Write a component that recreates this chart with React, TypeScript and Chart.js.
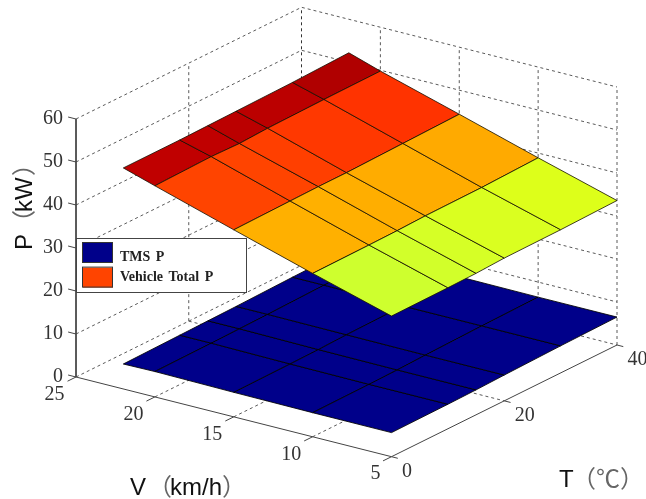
import React, { useEffect, useRef } from "react";
import { Chart, registerables } from "chart.js";

Chart.register(...registerables);

// ---- data -------------------------------------------------------------
const speeds = [22, 20, 15, 10, 5]; // V (km/h)
const temps = [0, 10, 15, 20, 30, 40]; // T (°C)

const vehicleTotalP = [
  [51.4, 51.4, 51.5, 51.6, 51.8, 52.2],
  [49.1, 49.4, 49.2, 49.5, 49.7, 49.8],
  [43.5, 43.7, 43.8, 43.8, 44.1, 44.4],
  [38.0, 38.1, 38.2, 38.4, 38.5, 38.9],
  [32.7, 32.8, 32.9, 33.2, 33.3, 33.6],
];
const tmsP = [
  [5.8, 6.0, 6.1, 6.2, 6.5, 6.7],
  [5.9, 6.0, 6.1, 6.2, 6.5, 6.7],
  [5.7, 5.8, 5.9, 6.1, 6.3, 6.6],
  [5.6, 5.7, 5.8, 6.0, 6.3, 6.5],
  [5.6, 5.7, 5.8, 6.0, 6.3, 6.5],
];
const vehicleColors = [
  ["#c00000", "#c00000", "#bb0000", "#bb0000", "#b00000"],
  ["#ff4400", "#ff4400", "#ff3f00", "#ff3800", "#ff3300"],
  ["#ffb000", "#ffb000", "#ffae00", "#ffac00", "#ffaa00"],
  ["#ceff2e", "#d2ff2a", "#d6ff26", "#daff20", "#ddff1a"],
];
const tmsColor = "#00008a";

const pTicks = [0, 10, 20, 30, 40, 50, 60];
const vTicks = [25, 20, 15, 10, 5];
const tTicks = [0, 20, 40];
const legendItems = ["TMS P", "Vehicle Total P"];
const legendColors = ["#00008a", "#ff4400"];

// ---- view ----------------------------------------------------------------
const W = 646;
const H = 499;
const vMax = 25;
const vMin = 5;
const tMin = 0;
const tMax = 40;
const pMax = 60;

const project = (v: number, t: number, p: number) => ({
  x: 76 + (vMax - v) * 15.775 + t * 5.6375,
  y: 377 + (vMax - v) * 3.985 - t * 2.7925 - p * 4.3,
});

type Pt = { x: number; y: number };
const path = (...pts: [number, number, number][]): Pt[] => pts.map((a) => project(a[0], a[1], a[2]));

const stroke = (data: Pt[], color: string, width: number, dash: number[] = []) => ({
  type: "scatter",
  data,
  showLine: true,
  fill: false,
  tension: 0,
  borderColor: color,
  borderWidth: width,
  borderDash: dash,
  pointRadius: 0,
});
const cell = (data: Pt[], color: string, edge: string) => ({
  type: "scatter",
  data,
  showLine: true,
  fill: "shape",
  tension: 0,
  backgroundColor: color,
  borderColor: edge,
  borderWidth: 1,
  pointRadius: 0,
});

function buildDatasets() {
  const out: any[] = [];
  const dashColor = "#5a5a5a";
  const dash = [3, 3];
  // back walls
  for (const p of pTicks) {
    if (p > 0) {
      out.push(stroke(path([vMax, tMin, p], [vMax, tMax, p], [vMin, tMax, p]), dashColor, 1, dash));
    }
  }
  out.push(stroke(path([vMax, tMax, 0], [vMax, tMax, pMax]), "#333333", 1, dash));
  for (const t of tTicks) {
    if (t > tMin && t < tMax) {
      out.push(stroke(path([vMax, t, 0], [vMax, t, pMax]), dashColor, 1, dash));
      out.push(stroke(path([vMax, t, 0], [vMin, t, 0]), dashColor, 1, dash));
    }
  }
  out.push(stroke(path([vMin, tMax, 0], [vMin, tMax, pMax]), dashColor, 1, dash));
  for (const v of vTicks) {
    if (v < vMax && v > vMin) {
      out.push(stroke(path([v, tMax, 0], [v, tMax, pMax]), dashColor, 1, dash));
      out.push(stroke(path([v, tMin, 0], [v, tMax, 0]), dashColor, 1, dash));
    }
  }
  out.push(stroke(path([vMax, tMin, 0], [vMax, tMax, 0], [vMin, tMax, 0]), dashColor, 1, dash));

  // axes and tick marks
  const axis = "#444444";
  out.push(stroke(path([vMax, tMin, pMax], [vMax, tMin, 0], [vMin, tMin, 0], [vMin, tMax, 0]), axis, 1));
  for (const p of pTicks) out.push(stroke(path([vMax, tMin, p], [vMax + 0.5, tMin, p]), axis, 1));
  for (const v of vTicks) out.push(stroke(path([v, tMin, 0], [v, tMin - 1.5, 0]), axis, 1));
  for (const t of tTicks) out.push(stroke(path([vMin, t, 0], [vMin - 0.4, t, 0]), axis, 1));

  // surfaces, lower one first
  const surface = (z: number[][], color: (i: number, j: number) => string, edge: string) => {
    for (let i = 0; i < speeds.length - 1; i++) {
      for (let j = 0; j < temps.length - 1; j++) {
        out.push(
          cell(
            path(
              [speeds[i], temps[j], z[i][j]],
              [speeds[i], temps[j + 1], z[i][j + 1]],
              [speeds[i + 1], temps[j + 1], z[i + 1][j + 1]],
              [speeds[i + 1], temps[j], z[i + 1][j]],
              [speeds[i], temps[j], z[i][j]],
            ),
            color(i, j),
            edge,
          ),
        );
      }
    }
  };
  surface(tmsP, () => tmsColor, "rgba(0,0,0,0.85)");
  surface(vehicleTotalP, (i, j) => vehicleColors[i][j], "rgba(20,15,0,0.8)");
  // Chart.js paints the first dataset on top
  return out.reverse();
}

const annotations = {
  id: "annotations",
  afterDraw(chart: any) {
    const ctx = chart.ctx as CanvasRenderingContext2D;
    const titleFont = '24px "Liberation Sans", "Noto Sans CJK SC"';
    ctx.save();
    ctx.textBaseline = "middle";
    ctx.fillStyle = "#333333";
    ctx.font = '20px "Liberation Serif"';
    ctx.textAlign = "right";
    for (const p of pTicks) {
      const a = project(vMax, tMin, p);
      ctx.fillText(String(p), a.x - 13, a.y - 0.5);
    }
    ctx.textAlign = "center";
    for (const v of vTicks) {
      const a = project(v, tMin, 0);
      ctx.fillText(String(v), a.x - (v < 10 ? 16 : 21.5), a.y + 17.5);
    }
    for (const t of tTicks) {
      const a = project(vMin, t, 0);
      ctx.fillText(String(t), a.x + (t < 10 ? 15.5 : 20.5), a.y + 15);
    }

    // axis titles
    ctx.font = titleFont;
    ctx.textAlign = "left";
    const bracket = "#666666";
    const dark = "#111111";
    const piece = (s: string, x: number, y: number, c: string) => {
      ctx.fillStyle = c;
      ctx.fillText(s, x, y);
    };
    piece("V", 130, 488, dark);
    piece("（", 148, 488, bracket);
    piece("km/h", 170, 488, dark);
    piece("）", 222, 488, bracket);
    piece("T", 559, 480, dark);
    piece("（℃）", 572, 480, bracket);
    ctx.save();
    ctx.translate(25, 250);
    ctx.rotate(-Math.PI / 2);
    piece("P", 0, 0, dark);
    piece("（", 16, 0, bracket);
    piece("kW", 38, 0, dark);
    piece("）", 74, 0, bracket);
    ctx.restore();

    // legend
    ctx.fillStyle = "#ffffff";
    ctx.fillRect(77, 239, 170, 54);
    ctx.strokeStyle = "#444444";
    ctx.lineWidth = 1;
    ctx.strokeRect(76.5, 238.5, 170, 54);
    ctx.font = 'bold 14px "Liberation Serif"';
    (ctx as any).wordSpacing = "2px";
    legendItems.forEach((label, i) => {
      const top = 243 + i * 24.6;
      ctx.fillStyle = legendColors[i];
      ctx.fillRect(83, top, 30, 20);
      ctx.strokeStyle = "#333333";
      ctx.strokeRect(82.5, top - 0.5, 30, 20);
      ctx.fillStyle = "#222222";
      ctx.fillText(label, 120, 257 + i * 20);
    });
    ctx.restore();
  },
};

export default function App() {
  const ref = useRef<HTMLCanvasElement | null>(null);
  useEffect(() => {
    document.body.style.margin = "0";
    const chart = new Chart(ref.current as HTMLCanvasElement, {
      type: "scatter",
      data: { datasets: buildDatasets() },
      options: {
        animation: false,
        responsive: false,
        layout: { padding: 0 },
        scales: {
          x: { type: "linear", display: false, min: 0, max: W },
          y: { type: "linear", display: false, min: 0, max: H, reverse: true },
        },
        plugins: {
          legend: { display: false },
          title: { display: false },
          tooltip: { enabled: false },
        },
      },
      plugins: [annotations],
    } as any);
    return () => chart.destroy();
  }, []);
  return <canvas ref={ref} width={W} height={H} style={{ display: "block", background: "#fff" }} />;
}
